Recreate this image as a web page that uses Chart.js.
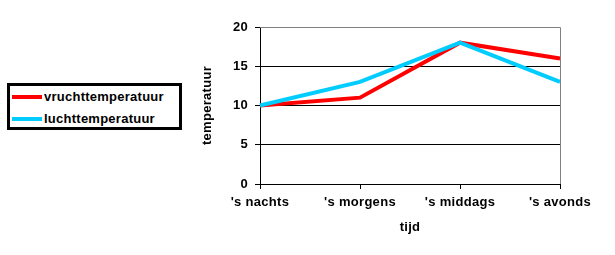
<!DOCTYPE html>
<html>
<head>
<meta charset="utf-8">
<script src="https://cdn.jsdelivr.net/npm/chart.js@4/dist/chart.umd.min.js"></script>
<style>
    html, body { margin: 0; padding: 0; background: #fff; }
    #wrap { position: relative; width: 615px; height: 255px; }
    #grafiek { position: absolute; left: 0; top: 0; }
    #legenda {
        position: absolute; left: 7px; top: 83px; width: 169px; height: 41px;
        border: 3px solid #000; background: #fff;
        font: bold 13px "Liberation Sans", Arial, sans-serif; color: #000;
        letter-spacing: 0.25px;
    }
    #legenda .rij { position: absolute; left: 0; height: 16px; line-height: 16px; white-space: nowrap; }
    #legenda .lijn { position: absolute; left: 2px; top: 6px; width: 30px; height: 4px; }
    #legenda .tekst { position: absolute; left: 34px; top: 0; }
</style>
</head>
<body>
<div id="wrap">
    <canvas id="grafiek" width="615" height="255"></canvas>
    <div id="legenda"></div>
</div>
<script>
    'use strict';

    // gegevens uit de grafiek
    let tijden = ["'s nachts", "'s morgens", "'s middags", "'s avonds"];
    let vruchtTemp = [10, 11, 18, 16];
    let luchtTemp = [10, 13, 18, 13];
    let yTicks = [0, 5, 10, 15, 20];

    let lettertype = '"Liberation Sans", Arial, sans-serif';

    let reeksen = [
        { label: 'vruchttemperatuur', data: vruchtTemp, kleur: '#ff0000', order: 1 },
        { label: 'luchttemperatuur', data: luchtTemp, kleur: '#00ccff', order: 0 }
    ];

    // legenda als html
    let _$legenda = document.getElementById('legenda');
    reeksen.forEach(function (r, i) {
        let rij = document.createElement('div');
        rij.className = 'rij';
        rij.style.top = (3 + i * 22) + 'px';
        rij.innerHTML = '<span class="lijn" style="background:' + r.kleur + '"></span><span class="tekst">' + r.label + '</span>';
        _$legenda.appendChild(rij);
    });

    // iets bredere letters, zoals in het origineel
    let spatiePlugin = {
        id: 'spatie',
        beforeInit: function (chart) { chart.ctx.letterSpacing = '0.3px'; },
        beforeDraw: function (chart) { chart.ctx.letterSpacing = '0.3px'; }
    };

    // grijze rand rechts en boven het plotvlak
    let randPlugin = {
        id: 'rand',
        afterDatasetsDraw: function (chart) {
            let ctx = chart.ctx, a = chart.chartArea;
            ctx.save();
            ctx.strokeStyle = '#808080';
            ctx.lineWidth = 1;
            ctx.beginPath();
            ctx.moveTo(a.left, a.top + 0.5);
            ctx.lineTo(a.right + 0.5, a.top + 0.5);
            ctx.lineTo(a.right + 0.5, a.bottom);
            ctx.stroke();
            ctx.restore();
        }
    };

    new Chart(document.getElementById('grafiek').getContext('2d'), {
        type: 'line',
        data: {
            labels: tijden,
            datasets: reeksen.map(function (r) {
                return {
                    label: r.label,
                    data: r.data,
                    borderColor: r.kleur,
                    backgroundColor: r.kleur,
                    borderWidth: 4,
                    pointRadius: 0,
                    tension: 0,
                    fill: false,
                    order: r.order
                };
            })
        },
        options: {
            responsive: false,
            animation: false,
            layout: { padding: { left: 200, right: 55, top: 27, bottom: 20 } },
            plugins: {
                legend: { display: false },
                tooltip: { enabled: false }
            },
            scales: {
                x: {
                    offset: false,
                    afterFit: function (s) { s.height = 51; },
                    grid: { drawOnChartArea: false, drawTicks: true, tickLength: 5, color: '#000' },
                    border: { color: '#000', width: 1 },
                    ticks: {
                        color: '#000', padding: 6, maxRotation: 0, autoSkip: false,
                        font: { family: lettertype, size: 13, weight: 'bold' }
                    },
                    title: {
                        display: true, text: 'tijd', color: '#000', padding: 0,
                        font: { family: lettertype, size: 13, weight: 'bold' }
                    }
                },
                y: {
                    min: yTicks[0],
                    max: yTicks[yTicks.length - 1],
                    afterFit: function (s) { s.width = 60; },
                    afterBuildTicks: function (s) { s.ticks = yTicks.map(function (v) { return { value: v }; }); },
                    grid: {
                        color: function (c) { return c.tick && c.tick.value === 20 ? '#808080' : '#000'; },
                        tickColor: '#000',
                        tickLength: 5,
                        lineWidth: 1
                    },
                    border: { color: '#000', width: 1 },
                    ticks: {
                        color: '#000', padding: 7,
                        font: { family: lettertype, size: 13, weight: 'bold' }
                    },
                    title: {
                        display: true, text: 'temperatuur', color: '#000', padding: 0,
                        font: { family: lettertype, size: 13, weight: 'bold' }
                    }
                }
            }
        },
        plugins: [spatiePlugin, randPlugin]
    });
</script>
</body>
</html>
